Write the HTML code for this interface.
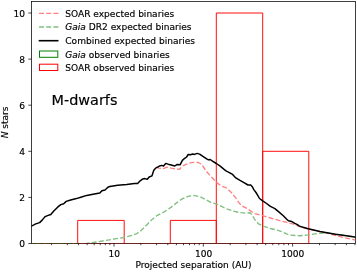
<!DOCTYPE html>
<html><head><meta charset="utf-8"><title>M-dwarfs binaries</title>
<style>html,body{margin:0;padding:0;background:#fff}body{width:357px;height:272px;overflow:hidden}text{stroke:#000;stroke-width:.16px}</style></head>
<body>
<svg width="357" height="272" viewBox="0 0 357 272" style="display:block" font-family='"DejaVu Sans","Liberation Sans",sans-serif' font-size="9.05" fill="#000">
<rect width="357" height="272" fill="#fff"/>
<clipPath id="c"><rect x="31.5" y="1.5" width="324.1" height="241.9"/></clipPath>
<rect x="31.5" y="1.5" width="324.1" height="241.9" fill="none" stroke="#000" stroke-width="0.75"/>
<g clip-path="url(#c)" fill="none" stroke-linejoin="round">
<path d="M77.7,243.4 V220.4 H124.2 V243.4" stroke="#f00" stroke-width="0.95"/>
<path d="M170.3,243.4 V220.4 H216.3 V243.4" stroke="#f00" stroke-width="0.95"/>
<path d="M216.3,243.4 V13.0 H262.7 V243.4" stroke="#f00" stroke-width="0.95"/>
<path d="M262.7,243.4 V151.3 H308.8 V243.4" stroke="#f00" stroke-width="0.95"/>
<polyline points="157.3,167.6 159.0,168.1 162.9,168.7 167.4,167.2 171.2,168.1 175.7,169.0 179.6,169.3 182.1,166.2 186.0,164.3 191.1,162.6 194.5,162.3 198.4,162.5 201.6,164.3 204.1,168.0 206.7,171.8 209.3,174.6 213.1,178.8 216.1,182.0 221.2,186.0 225.2,187.3 228.0,189.3 231.3,192.4 235.3,197.4 239.3,203.2 242.4,206.2 247.4,208.7 252.6,212.3 255.0,213.6 262.7,215.7 270.4,218.0 278.1,220.2 285.8,222.2 293.6,224.2 299.0,226.3 308.1,228.9 316.0,230.9 323.0,232.4 330.0,233.9 337.5,236.0 344.6,237.7 352.0,239.4 355.6,240.2" stroke="#ff8080" stroke-width="1.36" stroke-dasharray="5.03 2.18" stroke-dashoffset="1.3"/>
<polyline points="84.5,243.6 86.8,243.4 96.9,242.0 105.9,240.4 114.8,238.9 123.8,237.5 132.7,235.3 136.5,233.8 140.2,231.3 145.5,226.2 151.8,219.7 157.4,215.3 164.1,211.9 170.9,207.4 176.5,202.9 182.1,198.9 188.8,196.2 193.7,195.4 200.0,196.7 206.7,200.2 211.2,202.6 216.7,204.1 225.7,208.5 232.4,210.8 239.1,212.5 245.9,213.1 250.3,212.8 252.0,215.0 254.5,219.1 258.2,223.6 262.7,225.9 270.5,228.5 277.2,230.1 282.6,232.0 287.1,234.2 292.7,235.3 299.4,235.8 308.4,234.9 317.3,233.5 324.9,232.9 329.0,233.2 335.3,234.2 346.5,235.8 355.4,237.1" stroke="#80c080" stroke-width="1.36" stroke-dasharray="5.03 2.18"/>
<polyline points="31.5,226.1 35.8,223.9 39.6,222.6 42.2,220.1 44.8,216.9 47.4,215.6 50.8,214.5 53.8,211.1 57.6,207.2 60.8,204.6 63.7,203.7 66.2,201.4 69.8,200.3 76.4,198.6 81.6,197.0 86.7,195.4 93.1,194.3 99.8,193.0 101.9,190.7 105.0,190.0 107.9,187.2 109.8,186.5 113.0,185.9 117.7,185.2 126.7,184.5 134.4,183.6 137.6,183.5 140.2,180.8 142.8,178.9 144.7,178.6 147.3,179.3 149.2,177.0 151.9,175.9 153.8,170.2 155.6,168.2 159.0,166.3 161.6,165.4 163.5,166.0 165.7,163.4 169.3,164.6 174.8,166.0 177.2,164.4 180.2,164.7 182.4,160.4 184.7,158.3 186.6,157.0 188.2,154.4 190.3,154.8 192.8,154.0 194.5,154.4 197.1,153.4 199.6,154.1 202.9,156.3 206.7,158.9 208.4,159.8 210.2,159.5 212.5,161.1 216.3,163.5 220.2,166.2 224.1,169.4 226.0,170.8 229.8,172.8 232.6,174.4 235.8,177.9 239.6,180.2 243.5,182.4 248.0,185.0 250.7,185.1 252.5,187.0 253.8,189.6 256.0,192.5 257.6,195.1 259.5,198.5 262.7,200.9 266.6,203.5 270.4,206.4 274.9,208.6 278.8,211.9 283.3,215.8 286.5,219.0 288.4,220.7 291.8,221.6 294.8,223.4 297.4,224.7 299.5,226.1 303.0,227.3 308.2,228.7 320.0,231.4 328.4,233.0 335.3,234.2 346.5,235.8 355.6,237.1" stroke="#000" stroke-width="1.5" stroke-linecap="square"/>
</g>
<path d="M31.5,243.5 H87" stroke="#a02832" stroke-width="1" fill="none"/>
<path d="M31.5,243.5 H87" stroke="#38421c" stroke-width="1" stroke-dasharray="5.6 1.6" fill="none"/>
<path d="M77.7,243.5 H308.8" stroke="#6e2323" stroke-width="1" fill="none"/>
<path d="M114.0,243.4 v3.2 M203.3,243.4 v3.2 M292.6,243.4 v3.2 M51.6,243.4 v1.8 M67.3,243.4 v1.8 M78.5,243.4 v1.8 M87.1,243.4 v1.8 M94.2,243.4 v1.8 M100.2,243.4 v1.8 M105.3,243.4 v1.8 M109.9,243.4 v1.8 M140.9,243.4 v1.8 M156.6,243.4 v1.8 M167.8,243.4 v1.8 M176.4,243.4 v1.8 M183.5,243.4 v1.8 M189.5,243.4 v1.8 M194.6,243.4 v1.8 M199.2,243.4 v1.8 M230.2,243.4 v1.8 M245.9,243.4 v1.8 M257.1,243.4 v1.8 M265.7,243.4 v1.8 M272.8,243.4 v1.8 M278.8,243.4 v1.8 M283.9,243.4 v1.8 M288.5,243.4 v1.8 M319.5,243.4 v1.8 M335.2,243.4 v1.8 M346.4,243.4 v1.8 M355.0,243.4 v1.8 M31.5,243.5 h-3.2 M31.5,197.4 h-3.2 M31.5,151.3 h-3.2 M31.5,105.2 h-3.2 M31.5,59.1 h-3.2 M31.5,13.0 h-3.2" stroke="#000" stroke-width="0.72" fill="none"/>
<text x="114.25" y="256.8" text-anchor="middle">10</text>
<text x="203.55" y="256.8" text-anchor="middle">100</text>
<text x="292.85" y="256.8" text-anchor="middle">1000</text>
<text x="25.0" y="247.1" text-anchor="end">0</text>
<text x="25.0" y="201.0" text-anchor="end">2</text>
<text x="25.0" y="154.9" text-anchor="end">4</text>
<text x="25.0" y="108.8" text-anchor="end">6</text>
<text x="25.0" y="62.7" text-anchor="end">8</text>
<text x="25.0" y="16.6" text-anchor="end">10</text>
<text x="193.5" y="268.2" text-anchor="middle">Projected separation (AU)</text>
<text transform="translate(8.4,122.4) rotate(-90)" text-anchor="middle"><tspan font-style="italic">N</tspan> stars</text>
<text x="51.6" y="105.1" font-size="14.4">M-dwarfs</text>
<path d="M39,13.4 h19.5" stroke="#ff8080" stroke-width="1.36" stroke-dasharray="5.03 2.18" fill="none"/>
<path d="M39,27.0 h19.5" stroke="#80c080" stroke-width="1.36" stroke-dasharray="5.03 2.18" fill="none"/>
<path d="M38.7,40.7 h19.8" stroke="#000" stroke-width="1.6" fill="none"/>
<rect x="39.5" y="51.0" width="18.3" height="6.3" stroke="#008000" stroke-width="1" fill="none"/>
<rect x="39.5" y="64.2" width="18.3" height="6.3" stroke="#f00" stroke-width="1" fill="none"/>
<text x="65.3" y="16.7">SOAR expected binaries</text>
<text x="65.3" y="30.3"><tspan font-style="italic">Gaia</tspan> DR2 expected binaries</text>
<text x="65.3" y="44.0">Combined expected binaries</text>
<text x="65.3" y="57.5"><tspan font-style="italic">Gaia</tspan> observed binaries</text>
<text x="65.3" y="70.7">SOAR observed binaries</text>
</svg>
</body></html>
